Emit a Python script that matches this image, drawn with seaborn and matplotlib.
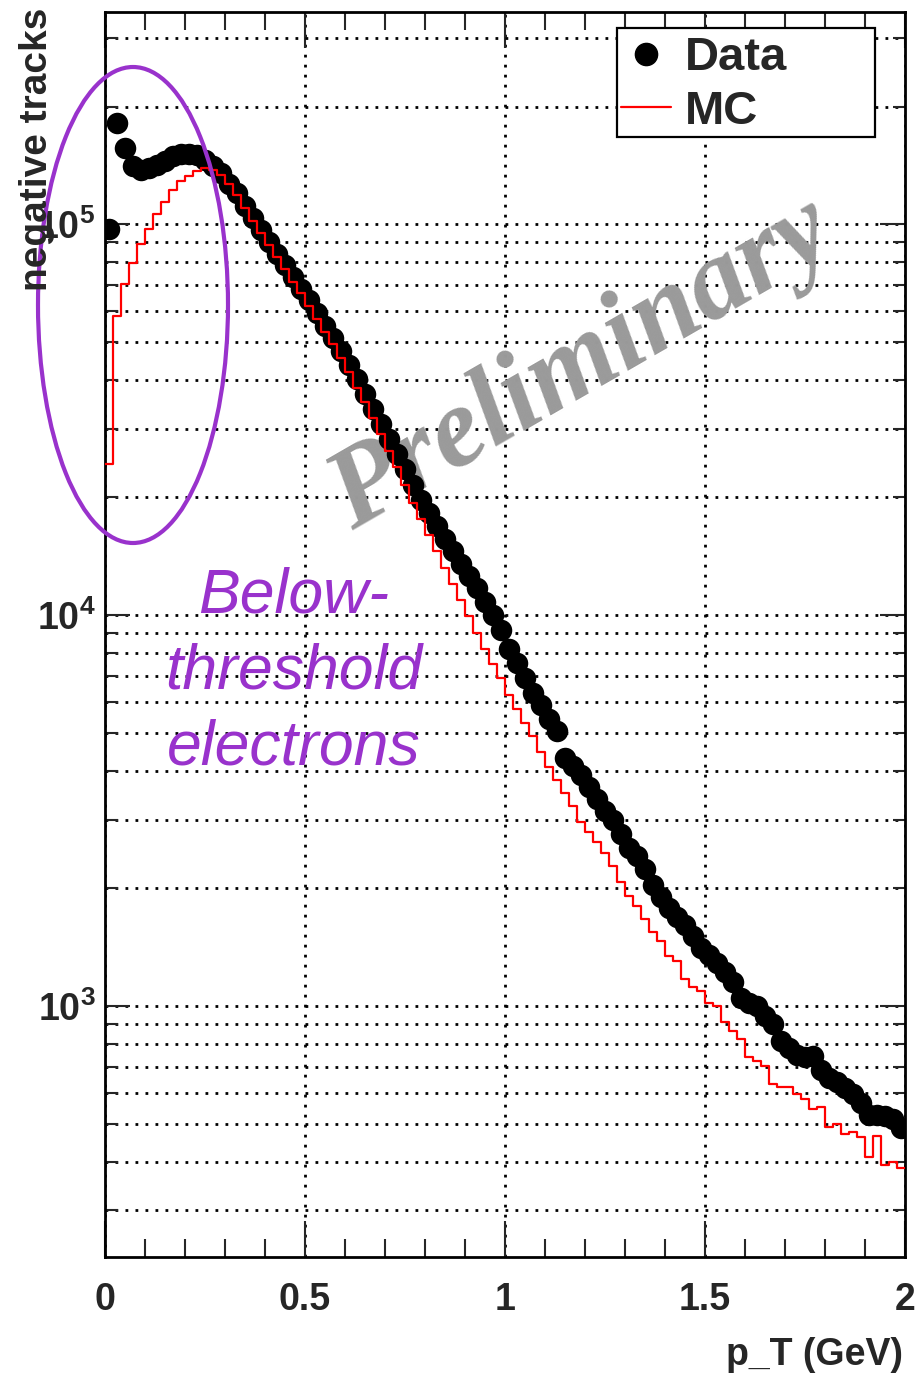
import numpy as np
import pandas as pd
import matplotlib
matplotlib.use("Agg")
import matplotlib.pyplot as plt
import seaborn as sns
from matplotlib.patches import Ellipse, Rectangle
from matplotlib.lines import Line2D
from matplotlib.ticker import LogLocator, MultipleLocator, NullFormatter, FixedLocator

# ---- histogram binning: 100 bins of 0.02 GeV from 0 to 2 GeV ----
bin_width = 0.02
n_bins = 100

# negative-track counts per bin, measured data
data_counts = [
    97000, 181000, 157000, 141000, 138000, 139000, 142000, 145000, 149000, 151000,
    151000, 150000, 146000, 141000, 135000, 127000, 120000, 111000, 104000, 96600,
    90200, 84100, 78500, 73100, 68400, 63800, 59200, 55000, 51300, 47400,
    43700, 40100, 36800, 33700, 30900, 28200, 25800, 23600, 21500, 19700,
    18200, 16900, 15700, 14600, 13500, 12600, 11700, 10800, 10000, 9160,
    8170, 7550, 6920, 6310, 5890, 5430, 5040, 4320, 4120, 3890,
    3630, 3390, 3160, 3000, 2750, 2540, 2420, 2240, 2040, 1900,
    1780, 1690, 1610, 1510, 1410, 1350, 1290, 1220, 1150, 1050,
    1020, 1000, 944, 902, 813, 782, 750, 741, 745, 684,
    653, 638, 617, 596, 565, 527, 525, 522, 513, 488,
]

# simulated (MC) counts per bin
mc_counts = [
    24300, 58200, 70300, 79600, 88900, 97000, 106000, 114000, 122000, 129000,
    133000, 137000, 139000, 138000, 134000, 127000, 119000, 110000, 102000, 94800,
    88300, 82400, 76700, 71300, 66500, 61900, 57300, 53100, 49300, 45500,
    41800, 38200, 35000, 31900, 29100, 26300, 23900, 21500, 19400, 17600,
    16000, 14600, 13200, 12000, 10900, 9950, 9020, 8170, 7480, 6920,
    6240, 5750, 5310, 4900, 4470, 4090, 3780, 3510, 3240, 2950,
    2790, 2630, 2470, 2280, 2070, 1910, 1800, 1670, 1550, 1470,
    1340, 1300, 1170, 1120, 1090, 1020, 1000, 910, 863, 824,
    741, 724, 703, 632, 621, 621, 597, 579, 546, 552,
    491, 500, 471, 477, 463, 412, 466, 391, 400, 384,
]

y_tick_values = [1e3, 1e4, 1e5]
y_tick_labels = [r"$10^{3}$", r"$10^{4}$", r"$10^{5}$"]
x_tick_values = [0, 0.5, 1, 1.5, 2]
x_tick_labels = ["0", "0.5", "1", "1.5", "2"]

edges = np.arange(n_bins + 1) * bin_width
centers = edges[:-1] + bin_width / 2

data_df = pd.DataFrame({"pt": centers, "tracks": data_counts})
mc_df = pd.DataFrame({"pt": edges, "tracks": mc_counts + [mc_counts[-1]]})

# ---- style ----
sns.set_style("white")
plt.rcParams["font.family"] = ["Liberation Sans", "DejaVu Sans"]
plt.rcParams["font.weight"] = "bold"
plt.rcParams["mathtext.fontset"] = "custom"
plt.rcParams["mathtext.rm"] = "Liberation Sans:bold"
plt.rcParams["mathtext.bf"] = "Liberation Sans:bold"
plt.rcParams["mathtext.it"] = "Liberation Sans:bold:italic"
plt.rcParams["mathtext.default"] = "rm"

fig = plt.figure(figsize=(9.19, 13.77), dpi=100)
ax = fig.add_axes([105 / 919, 1 - 1257 / 1377, 800 / 919, 1245 / 1377])

# data points
sns.scatterplot(data=data_df, x="pt", y="tracks", ax=ax, color="black",
                s=240, linewidth=0, legend=False, zorder=3)

# MC step histogram
sns.lineplot(data=mc_df, x="pt", y="tracks", ax=ax, color="red", lw=1.6,
             drawstyle="steps-post", estimator=None, sort=False,
             legend=False, zorder=4)

ax.set_yscale("log")
ax.set_xlim(0, 2)
ax.set_ylim(228, 3.49e5)

ax.xaxis.set_major_locator(FixedLocator(x_tick_values))
ax.set_xticklabels(x_tick_labels)
ax.xaxis.set_minor_locator(MultipleLocator(0.1))
ax.yaxis.set_major_locator(FixedLocator(y_tick_values))
ax.set_yticklabels(y_tick_labels)
ax.yaxis.set_minor_locator(LogLocator(base=10, subs=np.arange(2, 10)))
ax.yaxis.set_minor_formatter(NullFormatter())

ax.set_xlabel("")
ax.set_ylabel("")

for sp in ax.spines.values():
    sp.set_linewidth(2.0)
    sp.set_color("black")

ax.tick_params(axis="x", which="major", direction="in", length=26, width=1.5,
               top=True, bottom=True, labelsize=27, pad=18)
ax.tick_params(axis="x", which="minor", direction="in", length=13, width=1.5,
               top=True, bottom=True)
ax.tick_params(axis="y", which="major", direction="in", length=18, width=1.5,
               left=True, right=True, labelsize=27, pad=7)
ax.tick_params(axis="y", which="minor", direction="in", length=9, width=1.5,
               left=True, right=True)

# dotted grid: vertical at major x ticks, horizontal at every log tick
grid_style = dict(color="black", linewidth=2.0, linestyle=(0, (1, 2.6)))
ax.grid(False)
ax.xaxis.grid(True, which="major", **grid_style)
ax.yaxis.grid(True, which="both", **grid_style)
ax.set_axisbelow(True)

# legend box
box = Rectangle(((617 - 105) / 800, 1 - (137 - 12) / 1245), 258 / 800, 109 / 1245,
                transform=ax.transAxes, facecolor="white", edgecolor="black",
                linewidth=1.6, zorder=7)
ax.add_patch(box)
handles = [Line2D([], [], marker="o", ls="none", color="black", markersize=16),
           Line2D([], [], color="red", lw=1.6)]
leg = ax.legend(handles, ["Data", "MC"], loc="upper left",
                bbox_to_anchor=((619 - 105) / 800, 1 - (34 - 12) / 1245),
                prop={"weight": "bold", "size": 34}, frameon=False,
                borderpad=0.05, labelspacing=0.2, handlelength=1.05,
                handletextpad=0.3, borderaxespad=0.0)
leg.set_zorder(8)

# watermark
ax.text(0.596, 0.7165, "Preliminary", transform=ax.transAxes, rotation=30,
        rotation_mode="anchor", fontsize=82, family="Liberation Serif",
        style="italic", weight="bold", color="#9a9a9a", ha="center",
        va="center", zorder=2)

# annotation of the low-pT region
purple = "#9932CC"
ax.add_patch(Ellipse((28 / 800, 1 - (305 - 12) / 1245), 190 / 800, 476 / 1245,
                     transform=ax.transAxes, fill=False, edgecolor=purple,
                     linewidth=3, clip_on=False, zorder=9))
ax.text((294 - 105) / 800, 1 - (672 - 12) / 1245, "Below-\nthreshold\nelectrons",
        transform=ax.transAxes, fontsize=45, style="italic", weight="normal",
        color=purple, ha="center", va="center", multialignment="center",
        linespacing=1.37, zorder=6)

# axis titles
fig.text(37 / 919, 1 - 8 / 1377, "negative tracks", rotation=90, va="top",
         ha="center", fontsize=28, weight="bold")
fig.text(903 / 919, 1 - 1373 / 1377, "p_T (GeV)", ha="right", va="bottom",
         fontsize=27, weight="bold")

fig.savefig("out.png", dpi=100, facecolor="white")
